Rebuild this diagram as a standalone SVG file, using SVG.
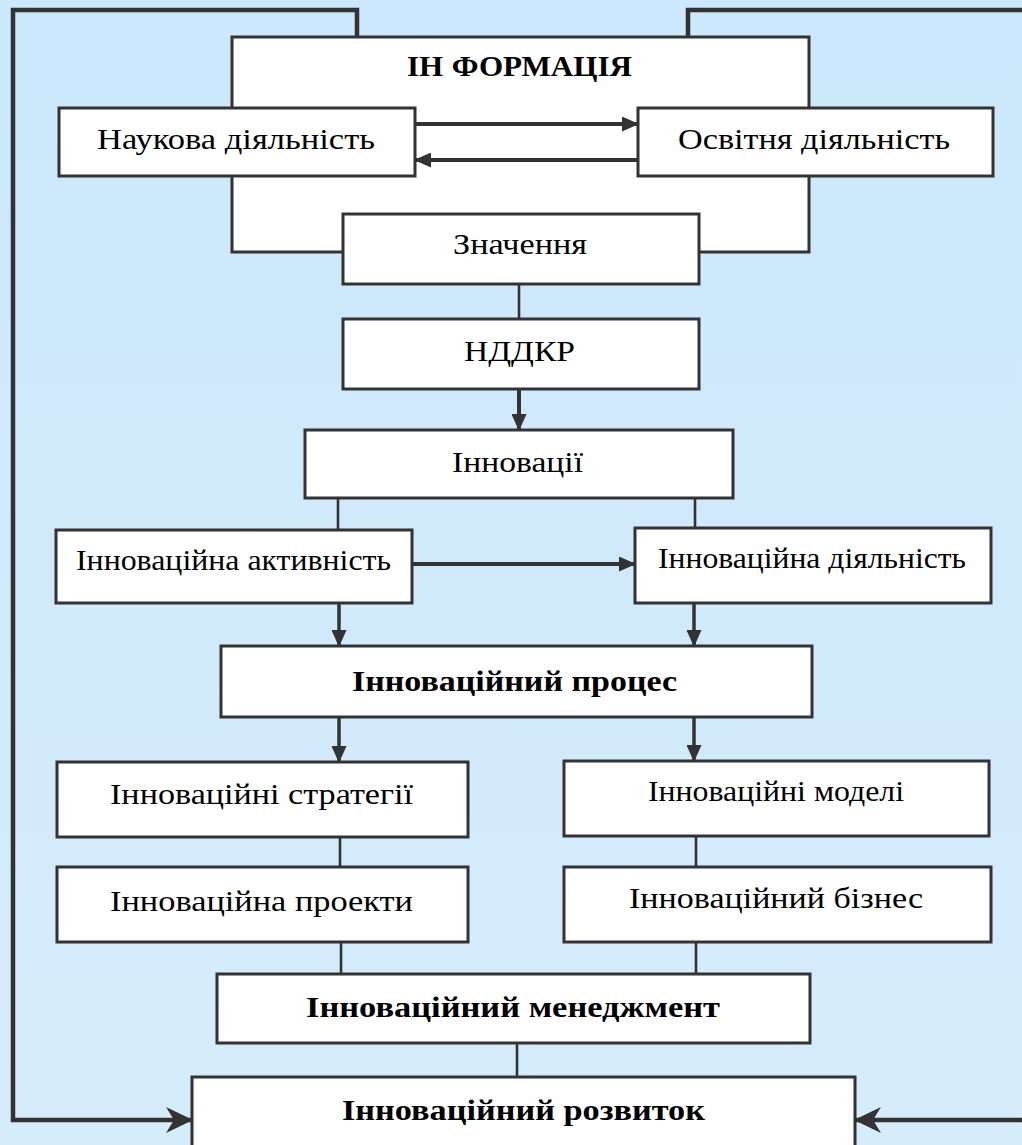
<svg xmlns="http://www.w3.org/2000/svg" width="1022" height="1145" viewBox="0 0 1022 1145">
<style>
.box{fill:#fff;stroke:#333;stroke-width:3}
.t{font-family:"Liberation Serif","Times New Roman",Times,serif;font-size:30px;fill:#000}
.b{font-weight:bold;font-size:29px}
.loop{fill:none;stroke:#333;stroke-width:4.5}
.thin{fill:none;stroke:#333;stroke-width:2.6}
.arr{fill:none;stroke:#333;stroke-width:4;marker-end:url(#tri)}
.arr2{fill:none;stroke:#333;stroke-width:3.5;marker-end:url(#tri)}
</style>
<defs>
<linearGradient id="bg" x1="0" y1="0" x2="0" y2="1">
<stop offset="0" stop-color="#cce8fc"/>
<stop offset="1" stop-color="#d5ecfa"/>
</linearGradient>
<marker id="tri" markerUnits="userSpaceOnUse" markerWidth="17" markerHeight="15" refX="16" refY="7.5" orient="auto">
<path d="M0,0 L17,7.5 L0,15 z" fill="#333"/>
</marker>
<marker id="barb" markerUnits="userSpaceOnUse" markerWidth="27" markerHeight="26" refX="26" refY="13" orient="auto">
<path d="M0,0 L27,13 L0,26 L8,13 z" fill="#333"/>
</marker>
</defs>
<rect x="0" y="0" width="1022" height="1145" fill="url(#bg)"/>

<g id="info">
<rect class="box" x="232" y="37" width="577" height="215"/>
<text class="t b" x="407" y="76" textLength="225" lengthAdjust="spacingAndGlyphs">ІН<tspan dx="8">ФОРМАЦІЯ</tspan></text>
</g>

<g id="connectors">
<path class="loop" d="M357,37 V10 H13 V1120 H192" marker-end="url(#barb)"/>
<path class="loop" d="M688,37 V10 H1032 V1120 H855" marker-end="url(#barb)"/>
<path class="arr" d="M415,124 H638"/>
<path class="arr" d="M638,160 H415"/>
<path class="thin" d="M519,284 V319"/>
<path class="arr" d="M519,389 V430"/>
<path class="thin" d="M338,498 V530"/>
<path class="thin" d="M695,498 V528"/>
<path class="arr" d="M412,564 H635"/>
<path class="arr2" d="M339,603 V646"/>
<path class="arr2" d="M694,603 V646"/>
<path class="arr2" d="M339,717 V762"/>
<path class="arr2" d="M694,717 V761"/>
<path class="thin" d="M340,837 V867"/>
<path class="thin" d="M696,836 V867"/>
<path class="thin" d="M341,942 V974"/>
<path class="thin" d="M696,942 V974"/>
<path class="thin" d="M517,1043 V1077"/>
</g>

<g id="naukova">
<rect class="box" x="59" y="108" width="356" height="68"/>
<text class="t" x="97" y="149" textLength="278" lengthAdjust="spacingAndGlyphs">Наукова діяльність</text>
</g>
<g id="osvitnia">
<rect class="box" x="638" y="108" width="355" height="68"/>
<text class="t" x="678" y="149" textLength="272" lengthAdjust="spacingAndGlyphs">Освітня діяльність</text>
</g>
<g id="znachennia">
<rect class="box" x="343" y="214" width="356" height="70"/>
<text class="t" x="453" y="254" textLength="134" lengthAdjust="spacingAndGlyphs">Значення</text>
</g>
<g id="nddkr">
<rect class="box" x="343" y="319" width="356" height="70"/>
<text class="t" x="464" y="361" textLength="111" lengthAdjust="spacingAndGlyphs">НДДКР</text>
</g>
<g id="innovatsii">
<rect class="box" x="305" y="430" width="428" height="68"/>
<text class="t" x="452" y="472" textLength="131" lengthAdjust="spacingAndGlyphs">Інновації</text>
</g>
<g id="aktyvnist">
<rect class="box" x="56" y="530" width="356" height="73"/>
<text class="t" x="76" y="570" textLength="315" lengthAdjust="spacingAndGlyphs">Інноваційна активність</text>
</g>
<g id="diialnist">
<rect class="box" x="635" y="528" width="356" height="75"/>
<text class="t" x="658" y="568" textLength="308" lengthAdjust="spacingAndGlyphs">Інноваційна діяльність</text>
</g>
<g id="protses">
<rect class="box" x="221" y="646" width="591" height="71"/>
<text class="t b" x="352" y="691" textLength="325" lengthAdjust="spacingAndGlyphs">Інноваційний процес</text>
</g>
<g id="stratehii">
<rect class="box" x="57" y="762" width="411" height="75"/>
<text class="t" x="110" y="804" textLength="303" lengthAdjust="spacingAndGlyphs">Інноваційні стратегії</text>
</g>
<g id="modeli">
<rect class="box" x="564" y="761" width="425" height="75"/>
<text class="t" x="648" y="801" textLength="256" lengthAdjust="spacingAndGlyphs">Інноваційні моделі</text>
</g>
<g id="proekty">
<rect class="box" x="57" y="867" width="411" height="75"/>
<text class="t" x="110" y="911" textLength="303" lengthAdjust="spacingAndGlyphs">Інноваційна проекти</text>
</g>
<g id="biznes">
<rect class="box" x="564" y="867" width="427" height="75"/>
<text class="t" x="629" y="908" textLength="294" lengthAdjust="spacingAndGlyphs">Інноваційний бізнес</text>
</g>
<g id="menedzhment">
<rect class="box" x="217" y="974" width="593" height="69"/>
<text class="t b" x="306" y="1017" textLength="414" lengthAdjust="spacingAndGlyphs">Інноваційний менеджмент</text>
</g>
<g id="rozvytok">
<rect class="box" x="192" y="1077" width="663" height="90"/>
<text class="t b" x="342" y="1120" textLength="363" lengthAdjust="spacingAndGlyphs">Інноваційний розвиток</text>
</g>
</svg>
